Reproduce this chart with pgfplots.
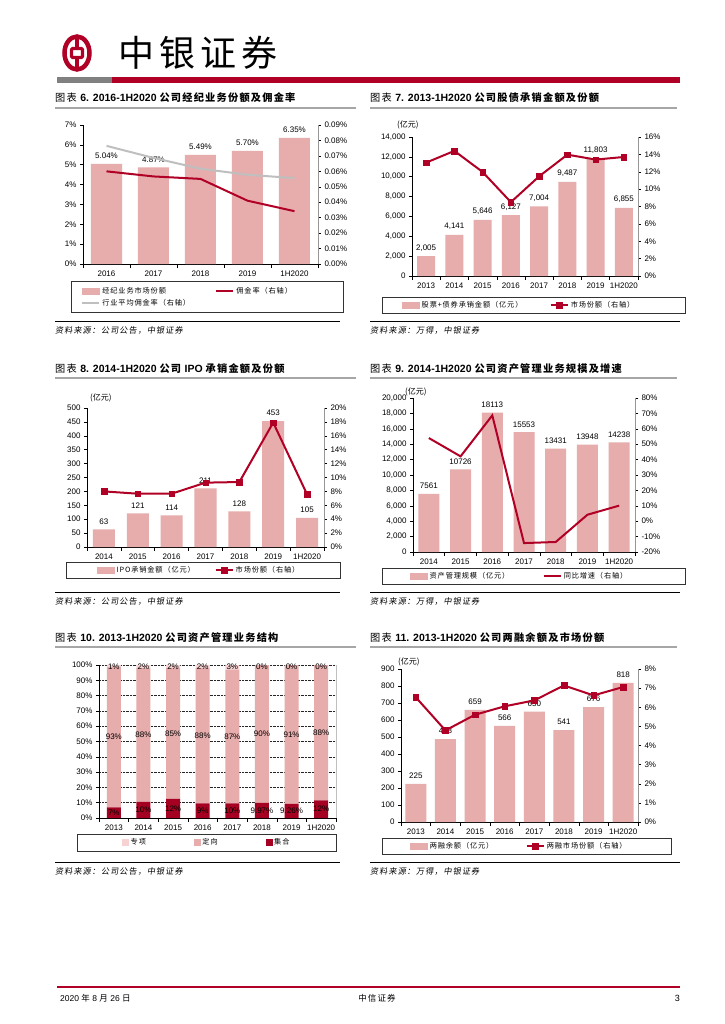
\documentclass[border=0pt]{standalone}
\usepackage{fontspec}
\setmainfont{Liberation Sans}
\newfontfamily\cjk{Noto Sans CJK SC}[LetterSpace=12]
\newfontfamily\cjkp{Noto Sans CJK SC}
\newfontfamily\cjksl{Noto Sans CJK SC}[LetterSpace=12,FakeSlant=0.15]
\usepackage{pgfplots}
\pgfplotsset{compat=1.18}
\definecolor{barpink}{RGB}{231,172,172}
\definecolor{dred}{RGB}{176,0,38}
\definecolor{lgray}{RGB}{191,191,191}
\definecolor{jhred}{RGB}{165,0,33}
\definecolor{zxpink}{RGB}{246,210,210}
\definecolor{hgray}{RGB}{128,128,128}
\definecolor{axgray}{RGB}{150,150,150}
\newcommand{\tk}{\fontsize{8}{9.6}\selectfont}
\newcommand{\lgf}{\cjk\fontsize{7.2}{9}\selectfont}
\newcommand{\srcf}{\cjksl\fontsize{8.2}{10}\selectfont}
\newcommand{\ttc}{\cjk\fontsize{10.2}{12}\selectfont}
\newcommand{\ttb}{\normalfont\bfseries\fontsize{10.5}{12}\selectfont}
\newcommand{\yy}{\cjkp\fontsize{8}{9}\selectfont(亿元)}
\newcommand{\lb}[2]{\makebox[#1][l]{#2}}

\pgfplotsset{
  base/.style={scale only axis, anchor=south west, clip=false,
    enlargelimits=false, scaled ticks=false,
    /pgf/number format/assume math mode=true,
    tick label style={font=\tk, text=black},
    axis line style={line width=0.6pt},
    tick style={line width=0.5pt, black},
    major tick length=3pt, minor tick length=3.5pt, tick align=outside},
  lax/.style={base, ybar, axis x line*=bottom, axis y line*=left,
    major x tick style={draw=none},
    nodes near coords, point meta=explicit symbolic,
    every node near coord/.append style={font=\tk, text=black, yshift=1.5pt}},
  rax/.style={base, axis x line=none, axis y line*=right,
    y axis line style={axgray}},
  leg/.style={legend cell align=left,
    legend style={anchor=north west, draw=black!80, line width=0.5pt, font=\lgf,
      inner ysep=2pt, /tikz/every even column/.append style={column sep=4pt}}},
  redline/.style={dred, line width=2pt, mark=none},
  redmk/.style={dred, line width=2pt, mark=square*, mark size=2.8pt,
    mark options={fill=dred, draw=dred, line width=0.4pt}},
  grayline/.style={lgray, line width=2pt, mark=none},
  barleg/.style={legend image code/.code={\fill[barpink] (0pt,-3pt) rectangle (17pt,3pt);}},
}

\begin{document}
\begin{tikzpicture}
\useasboundingbox (0,0) rectangle (724pt,-1024pt);
\fill[white] (0,0) rectangle (724pt,-1024pt);
% ---------- header ----------
\begin{scope}[shift={(77pt,-53pt)}]
  \draw[dred, line width=4.5pt] (0,0) ellipse (12.5pt and 16.5pt);
  \draw[dred, line width=3.2pt, rounded corners=1.2pt] (-5.5pt,-4.5pt) rectangle (5.5pt,4.5pt);
  \draw[dred, line width=3.2pt] (0,16.5pt) -- (0,4.5pt) (0,-4.5pt) -- (0,-16.5pt);
\end{scope}
\node[anchor=west, inner sep=0pt] at (118pt,-53pt) {\cjkp\fontsize{36}{36}\selectfont 中\hspace{5pt}银\hspace{5pt}证\hspace{5pt}券};
\fill[hgray] (57pt,-77pt) rectangle (112pt,-83pt);
\fill[dred] (112pt,-77pt) rectangle (680pt,-83pt);

% ---------- titles ----------
\node[anchor=base west, inner sep=0pt] at (55pt,-102pt) {\ttc 图表 \ttb 6. 2016-1H2020 \ttc 公司经纪业务份额及佣金率};
\node[anchor=base west, inner sep=0pt] at (370pt,-102pt) {\ttc 图表 \ttb 7. 2013-1H2020 \ttc 公司股债承销金额及份额};
\node[anchor=base west, inner sep=0pt] at (55pt,-372pt) {\ttc 图表 \ttb 8. 2014-1H2020 \ttc 公司 \ttb IPO \ttc 承销金额及份额};
\node[anchor=base west, inner sep=0pt] at (370pt,-372pt) {\ttc 图表 \ttb 9. 2014-1H2020 \ttc 公司资产管理业务规模及增速};
\node[anchor=base west, inner sep=0pt] at (55pt,-641pt) {\ttc 图表 \ttb 10. 2013-1H2020 \ttc 公司资产管理业务结构};
\node[anchor=base west, inner sep=0pt] at (370pt,-641pt) {\ttc 图表 \ttb 11. 2013-1H2020 \ttc 公司两融余额及市场份额};
\foreach \yv in {108,378,647}{
  \draw[black!35, line width=1.5pt] (55pt,-\yv pt) -- (356pt,-\yv pt);
  \draw[black!35, line width=1.5pt] (370pt,-\yv pt) -- (677pt,-\yv pt);
}
% ---------- sources ----------
\foreach \yv/\ty in {321/333, 592/604, 862/874}{
  \draw[black, line width=0.8pt] (55pt,-\yv pt) -- (340pt,-\yv pt);
  \draw[black, line width=0.8pt] (370pt,-\yv pt) -- (680pt,-\yv pt);
  \node[anchor=base west, inner sep=0pt] at (55pt,-\ty pt) {\srcf 资料来源：公司公告，中银证券};
  \node[anchor=base west, inner sep=0pt] at (370pt,-\ty pt) {\srcf 资料来源：万得，中银证券};
}
% ---------- footer ----------
\draw[dred, line width=1.2pt] (57pt,-987pt) -- (680pt,-987pt);
\node[anchor=base west, inner sep=0pt] at (60pt,-1001pt) {\fontsize{8.5}{10}\selectfont 2020 {\cjkp 年} 8 {\cjkp 月} 26 {\cjkp 日}};
\node[anchor=base, inner sep=0pt] at (377pt,-1001pt) {\cjk\fontsize{8.5}{10}\selectfont 中信证券};
\node[anchor=base east, inner sep=0pt] at (680pt,-1001pt) {\fontsize{9}{10}\selectfont 3};

% ---------- chart 6 (top left) ----------
\begin{axis}[lax, at={(83pt,-264pt)}, width=235pt, height=139pt,
  bar width=31pt, xmin=-0.5, xmax=4.5, ymin=0, ymax=7,
  xtick={0,...,4}, xticklabels={2016,2017,2018,2019,1H2020},
  minor xtick={-0.5,0.5,...,4.5},
  ytick={0,...,7}, yticklabels={0\%,1\%,2\%,3\%,4\%,5\%,6\%,7\%}]
\addplot[fill=barpink, draw=none] coordinates {(0,5.04)[5.04\%] (1,4.87)[4.87\%] (2,5.49)[5.49\%] (3,5.70)[5.70\%] (4,6.35)[6.35\%]};
\end{axis}
\begin{axis}[rax, leg, at={(83pt,-264pt)}, width=235pt, height=139pt,
  xmin=-0.5, xmax=4.5, ymin=0, ymax=0.09,
  ytick={0,0.01,0.02,0.03,0.04,0.05,0.06,0.07,0.08,0.09},
  yticklabels={0.00\%,0.01\%,0.02\%,0.03\%,0.04\%,0.05\%,0.06\%,0.07\%,0.08\%,0.09\%},
  legend columns=2,
  legend style={at={(-0.051,-0.122)}, inner xsep=10pt, inner ysep=4pt}]
\addlegendimage{barleg}
\addlegendentry{\lb{107pt}{经纪业务市场份额}}
\addplot[redline] coordinates {(0,0.0600) (1,0.0567) (2,0.0551) (3,0.0410) (4,0.0342)};
\addlegendentry{\lb{95pt}{佣金率（右轴）}}
\addplot[grayline] coordinates {(0,0.0765) (1,0.0687) (2,0.0617) (3,0.0578) (4,0.0556)};
\addlegendentry{\lb{107pt}{行业平均佣金率（右轴）}}
\end{axis}

% ---------- chart 7 (top right) ----------
\node[anchor=west, inner sep=0pt] at (397pt,-125pt) {\yy};
\begin{axis}[lax, at={(412pt,-276pt)}, width=226pt, height=139pt,
  bar width=18pt, xmin=-0.5, xmax=7.5, ymin=0, ymax=14000,
  xtick={0,...,7}, xticklabels={2013,2014,2015,2016,2017,2018,2019,1H2020},
  minor xtick={-0.5,0.5,...,7.5},
  ytick={0,2000,4000,6000,8000,10000,12000,14000},
  yticklabels={0,{2,000},{4,000},{6,000},{8,000},{10,000},{12,000},{14,000}}]
\addplot[fill=barpink, draw=none] coordinates {(0,2005)[2,005] (1,4141)[4,141] (2,5646)[5,646] (3,6127)[6,127] (4,7004)[7,004] (5,9487)[9,487] (6,11803)[11,803] (7,6855)[6,855]};
\end{axis}
\begin{axis}[rax, leg, at={(412pt,-276pt)}, width=226pt, height=139pt,
  xmin=-0.5, xmax=7.5, ymin=0, ymax=16,
  ytick={0,2,...,16}, yticklabels={0\%,2\%,4\%,6\%,8\%,10\%,12\%,14\%,16\%},
  legend columns=2,
  legend style={at={(-0.133,-0.151)}, inner xsep=20pt}]
\addlegendimage{barleg}
\addlegendentry{\lb{122pt}{股票+债券承销金额（亿元）}}
\addplot[redmk] coordinates {(0,13.05) (1,14.4) (2,11.97) (3,8.5) (4,11.47) (5,13.97) (6,13.4) (7,13.7)};
\addlegendentry{\lb{92pt}{市场份额（右轴）}}
\end{axis}

% ---------- chart 8 (middle left) ----------
\node[anchor=west, inner sep=0pt] at (90pt,-398pt) {\yy};
\begin{axis}[lax, at={(87pt,-547pt)}, width=237pt, height=139pt,
  bar width=22pt, xmin=-0.5, xmax=6.5, ymin=0, ymax=500,
  xtick={0,...,6}, xticklabels={2014,2015,2016,2017,2018,2019,1H2020},
  minor xtick={-0.5,0.5,...,6.5},
  ytick={0,50,...,500}]
\addplot[fill=barpink, draw=none] coordinates {(0,63)[63] (1,121)[121] (2,114)[114] (3,211)[211] (4,128)[128] (5,453)[453] (6,105)[105]};
\end{axis}
\begin{axis}[rax, leg, at={(87pt,-547pt)}, width=237pt, height=139pt,
  xmin=-0.5, xmax=6.5, ymin=0, ymax=20,
  ytick={0,2,...,20}, yticklabels={0\%,2\%,4\%,6\%,8\%,10\%,12\%,14\%,16\%,18\%,20\%},
  legend columns=2,
  legend style={at={(-0.089,-0.108)}, inner xsep=31pt}]
\addlegendimage{barleg}
\addlegendentry{\lb{92pt}{IPO承销金额（亿元）}}
\addplot[redmk] coordinates {(0,8.0) (1,7.67) (2,7.67) (3,9.26) (4,9.35) (5,17.9) (6,7.58)};
\addlegendentry{\lb{72pt}{市场份额（右轴）}}
\end{axis}

% ---------- chart 9 (middle right) ----------
\node[anchor=west, inner sep=0pt] at (405pt,-392pt) {\yy};
\begin{axis}[lax, at={(413pt,-552pt)}, width=222pt, height=154pt,
  bar width=21pt, xmin=-0.5, xmax=6.5, ymin=0, ymax=20000,
  xtick={0,...,6}, xticklabels={2014,2015,2016,2017,2018,2019,1H2020},
  minor xtick={-0.5,0.5,...,6.5},
  ytick={0,2000,...,20000},
  yticklabels={0,{2,000},{4,000},{6,000},{8,000},{10,000},{12,000},{14,000},{16,000},{18,000},{20,000}}]
\addplot[fill=barpink, draw=none] coordinates {(0,7561)[7561] (1,10726)[10726] (2,18113)[18113] (3,15553)[15553] (4,13431)[13431] (5,13948)[13948] (6,14238)[14238]};
\end{axis}
\begin{axis}[rax, leg, at={(413pt,-552pt)}, width=222pt, height=154pt,
  xmin=-0.5, xmax=6.5, ymin=-20, ymax=80,
  ytick={-20,-10,...,80}, yticklabels={-20\%,-10\%,0\%,10\%,20\%,30\%,40\%,50\%,60\%,70\%,80\%},
  legend columns=2,
  legend style={at={(-0.14,-0.104)}, inner xsep=28pt}]
\addlegendimage{barleg}
\addlegendentry{\lb{107pt}{资产管理规模（亿元）}}
\addplot[redline] coordinates {(0,54.0) (1,42.1) (2,68.7) (3,-14.2) (4,-13.5) (5,4.2) (6,10.1)};
\addlegendentry{\lb{91pt}{同比增速（右轴）}}
\end{axis}

% ---------- chart 10 (bottom left) ----------
\begin{axis}[base, at={(99pt,-818pt)}, width=237pt, height=153pt,
  ybar stacked, bar width=14pt, xmin=-0.5, xmax=7.5, ymin=0, ymax=100,
  axis x line*=bottom, axis y line*=left, major x tick style={draw=none},
  xtick={0,...,7}, xticklabels={2013,2014,2015,2016,2017,2018,2019,1H2020},
  minor xtick={-0.5,0.5,...,7.5},
  ytick={0,10,...,100}, yticklabels={0\%,10\%,20\%,30\%,40\%,50\%,60\%,70\%,80\%,90\%,100\%},
  ymajorgrids, major grid style={black!85, densely dotted, line width=0.5pt}]
\addplot[fill=jhred, draw=none] coordinates {(0,7) (1,10.5) (2,12.5) (3,9.5) (4,9.5) (5,9.97) (6,9.26) (7,11.6)};
\addplot[fill=barpink, draw=none] coordinates {(0,92) (1,87.5) (2,85.5) (3,88.5) (4,87.5) (5,90.03) (6,90.74) (7,88.4)};
\addplot[fill=zxpink, draw=none] coordinates {(0,1) (1,2) (2,2) (3,2) (4,3) (5,0) (6,0) (7,0)};
\end{axis}
\begin{axis}[base, at={(99pt,-818pt)}, width=237pt, height=153pt,
  xmin=-0.5, xmax=7.5, ymin=0, ymax=100,
  axis x line=none, axis y line*=right, ytick=\empty, y axis line style={lgray},
  legend cell align=left, legend columns=3,
  legend style={at={(-0.093,-0.105)}, anchor=north west, draw=black!80, line width=0.5pt, font=\lgf,
    inner ysep=2.5pt, inner xsep=45pt,
    /tikz/every even column/.append style={column sep=46pt}}]
\addlegendimage{legend image code/.code={\fill[zxpink] (0pt,-3pt) rectangle (6pt,3pt);}}
\addlegendentry{专项}
\addlegendimage{legend image code/.code={\fill[barpink] (0pt,-3pt) rectangle (6pt,3pt);}}
\addlegendentry{定向}
\addlegendimage{legend image code/.code={\fill[jhred] (0pt,-3pt) rectangle (6pt,3pt);}}
\addlegendentry{集合}
\addplot[only marks, mark=*, mark size=0.01pt, mark options={draw=none, fill=none},
  nodes near coords, point meta=explicit symbolic, nodes near coords align={center},
  every node near coord/.append style={font=\tk, text=black, anchor=center}]
  coordinates {(0,3.5)[7\%] (1,5.25)[10\%] (2,6.25)[12\%] (3,4.75)[9\%] (4,4.75)[10\%] (5,4.985)[9.97\%] (6,4.63)[9.26\%] (7,5.8)[12\%]
  (0,53)[93\%] (1,54.25)[88\%] (2,55.25)[85\%] (3,53.75)[88\%] (4,53.25)[87\%] (5,54.99)[90\%] (6,54.63)[91\%] (7,55.8)[88\%]
  (0,99)[1\%] (1,99)[2\%] (2,99)[2\%] (3,99)[2\%] (4,99)[3\%] (5,99)[0\%] (6,99)[0\%] (7,99)[0\%]};
\end{axis}

% ---------- chart 11 (bottom right) ----------
\node[anchor=west, inner sep=0pt] at (398pt,-662pt) {\yy};
\begin{axis}[lax, at={(401pt,-822pt)}, width=237pt, height=153pt,
  bar width=21pt, xmin=-0.5, xmax=7.5, ymin=0, ymax=900,
  xtick={0,...,7}, xticklabels={2013,2014,2015,2016,2017,2018,2019,1H2020},
  minor xtick={-0.5,0.5,...,7.5},
  ytick={0,100,...,900}]
\addplot[fill=barpink, draw=none] coordinates {(0,225)[225] (1,488)[488] (2,659)[659] (3,566)[566] (4,650)[650] (5,541)[541] (6,676)[676] (7,818)[818]};
\end{axis}
\begin{axis}[rax, leg, at={(401pt,-822pt)}, width=237pt, height=153pt,
  xmin=-0.5, xmax=7.5, ymin=0, ymax=8,
  ytick={0,...,8}, yticklabels={0\%,1\%,2\%,3\%,4\%,5\%,6\%,7\%,8\%},
  legend columns=2,
  legend style={at={(-0.08,-0.105)}, inner xsep=28pt}]
\addlegendimage{barleg}
\addlegendentry{\lb{90pt}{两融余额（亿元）}}
\addplot[redmk] coordinates {(0,6.52) (1,4.79) (2,5.61) (3,6.05) (4,6.36) (5,7.14) (6,6.62) (7,7.06)};
\addlegendentry{\lb{94pt}{两融市场份额（右轴）}}
\end{axis}
\end{tikzpicture}
\end{document}
